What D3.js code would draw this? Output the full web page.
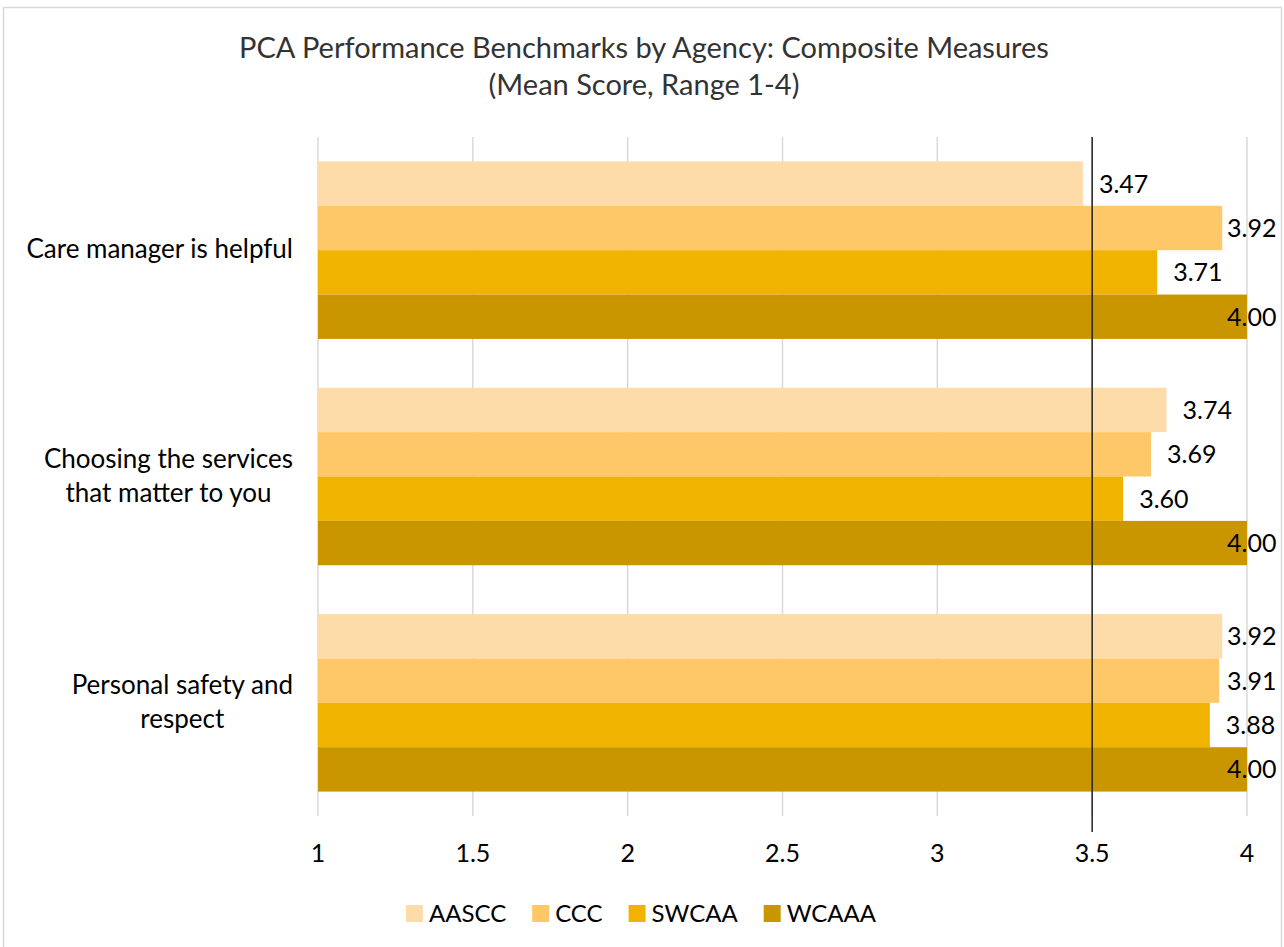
<!DOCTYPE html>
<html>
<head>
<meta charset="utf-8">
<script src="https://cdn.jsdelivr.net/npm/d3@7"></script>
<style>
  body { margin: 0; background: #fff; }
  text { font-family: Lato, "Open Sans", sans-serif; }
</style>
</head>
<body>
<svg id="chart" width="1284" height="947"></svg>
<script>
// data
var categories = [
  ["Care manager is helpful"],
  ["Choosing the services", "that matter to you"],
  ["Personal safety and", "respect"]
];
var seriesNames = ["AASCC", "CCC", "SWCAA", "WCAAA"];
var aascc = [3.47, 3.74, 3.92];
var ccc   = [3.92, 3.69, 3.91];
var swcaa = [3.71, 3.60, 3.88];
var wcaaa = [4.00, 4.00, 4.00];
var xTicks = [1, 1.5, 2, 2.5, 3, 3.5, 4];
var benchmark = 3.5;
var titleLines = ["PCA Performance Benchmarks by Agency: Composite Measures", "(Mean Score, Range 1-4)"];

var colors = ["#FEDCAA", "#FEC868", "#F0B300", "#C99600"];

var seriesValues = [aascc, ccc, swcaa, wcaaa];
var catKeys = categories.map(function(c) { return c.join(" "); });

var svg = d3.select("#chart");

// chart frame
svg.append("rect")
    .attr("x", 3.5).attr("y", 7.5)
    .attr("width", 1278).attr("height", 980)
    .attr("fill", "none")
    .attr("stroke", "#d9d9d9")
    .attr("stroke-width", 1.5);

// title
svg.append("g").selectAll("text")
    .data(titleLines)
    .enter().append("text")
    .attr("x", 644)
    .attr("y", function(d, i) { return 58 + i * 37; })
    .attr("text-anchor", "middle")
    .style("font-size", "29px")
    .style("fill", "#333")
    .text(function(d) { return d; });

var x = d3.scaleLinear().domain([1, 4]).range([318, 1247]);

var y0 = d3.scaleBand().domain(catKeys).range([137, 816]).padding(0);
var y1 = d3.scaleBand().domain(seriesNames).range([0, y0.bandwidth()])
    .paddingInner(0).paddingOuter(0.55);

// gridlines
svg.append("g").selectAll("line")
    .data(xTicks)
    .enter().append("line")
    .attr("x1", function(d) { return x(d); })
    .attr("x2", function(d) { return x(d); })
    .attr("y1", 137).attr("y2", 816)
    .attr("stroke", "#d9d9d9")
    .attr("stroke-width", 1.5);

// bars, one group per category
var groups = svg.append("g").selectAll("g")
    .data(catKeys)
    .enter().append("g")
    .attr("transform", function(d) { return "translate(0," + y0(d) + ")"; });

var cells = groups.selectAll("g")
    .data(function(d, ci) {
      return seriesNames.map(function(s, si) {
        return { s: s, v: seriesValues[si][ci], c: colors[si] };
      });
    })
    .enter().append("g");

cells.append("rect")
    .attr("x", x(1))
    .attr("y", function(d) { return y1(d.s); })
    .attr("width", function(d) { return x(d.v) - x(1); })
    .attr("height", y1.bandwidth())
    .attr("fill", function(d) { return d.c; });

// benchmark line at 3.5
svg.append("line")
    .attr("x1", x(benchmark)).attr("x2", x(benchmark))
    .attr("y1", 137).attr("y2", 832)
    .attr("stroke", "#222")
    .attr("stroke-width", 1.5);

// value labels (kept inside the frame like Excel does)
cells.append("text")
    .attr("x", function(d) { return Math.min(x(d.v) + 16, 1227); })
    .attr("y", function(d) { return y1(d.s) + y1.bandwidth() / 2 + 9; })
    .style("font-size", "25px")
    .style("fill", "#000")
    .text(function(d) { return d.v.toFixed(2); });

// x tick labels
svg.append("g").selectAll("text")
    .data(xTicks)
    .enter().append("text")
    .attr("x", function(d) { return x(d); })
    .attr("y", 862)
    .attr("text-anchor", "middle")
    .style("font-size", "25px")
    .style("fill", "#000")
    .text(function(d) { return d; });

// category labels, wrapped lines centred, block right-aligned to 293
categories.forEach(function(lines, ci) {
  var cy = y0(catKeys[ci]) + y0.bandwidth() / 2;
  var g = svg.append("g");
  var t = g.selectAll("text").data(lines).enter().append("text")
      .attr("y", function(d, i) { return cy + 8 - (lines.length - 1) * 17 + i * 34; })
      .attr("text-anchor", "middle")
      .style("font-size", "26px")
      .style("fill", "#000")
      .text(function(d) { return d; });
  var maxW = d3.max(t.nodes(), function(n) { return n.getComputedTextLength(); });
  t.attr("x", 293 - maxW / 2);
});

// legend, centred on the frame
var legend = svg.append("g");
var items = legend.selectAll("g").data(seriesNames).enter().append("g");
items.append("rect")
    .attr("y", 905).attr("width", 17).attr("height", 17)
    .attr("fill", function(d, i) { return colors[i]; });
items.append("text")
    .attr("x", 23).attr("y", 922)
    .style("font-size", "24px")
    .style("fill", "#000")
    .text(function(d) { return d; });
var pos = 0;
items.each(function() {
  var w = d3.select(this).select("text").node().getComputedTextLength();
  d3.select(this).attr("transform", "translate(" + pos + ",0)");
  pos += 23 + w + 26;
});
var legendW = pos - 26;
legend.attr("transform", "translate(" + (641 - legendW / 2) + ",0)");
</script>
</body>
</html>
